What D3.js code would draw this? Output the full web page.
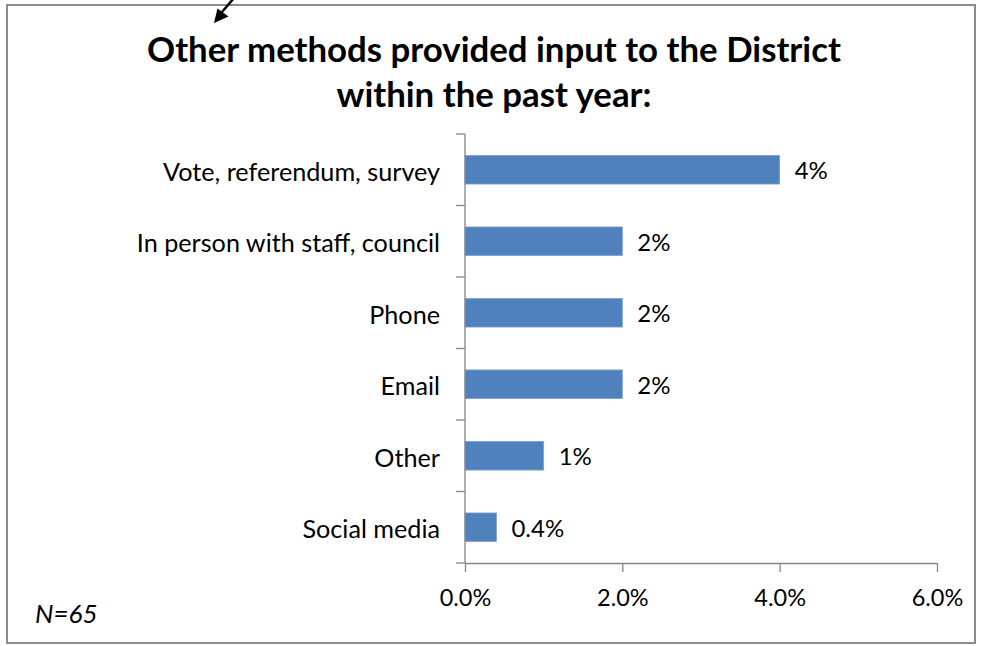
<!DOCTYPE html>
<html>
<head>
<meta charset="utf-8">
<script src="https://cdn.jsdelivr.net/npm/d3@7"></script>
<style>
  html, body { margin: 0; padding: 0; background: #fff; }
  svg { display: block; }
  text { font-family: Lato, "Open Sans", sans-serif; fill: #000; }
</style>
</head>
<body>
<svg id="chart" width="981" height="646"></svg>
<script>
// Survey responses: share of respondents using each input method
const categories = [
  "Vote, referendum, survey",
  "In person with staff, council",
  "Phone",
  "Email",
  "Other",
  "Social media"
];
const values = [4.0, 2.0, 2.0, 2.0, 1.0, 0.4];
const valueLabels = ["4%", "2%", "2%", "2%", "1%", "0.4%"];
const tickValues = [0, 2, 4, 6];
const titleLines = ["Other methods provided input to the District", "within the past year:"];
const footnote = "N=65";

const svg = d3.select("#chart");
const plot = { left: 465, right: 937, top: 134, bottom: 563 };
const axisColor = "#868686";
const barColor = "#4F81BD";

// outer frame
svg.append("rect")
  .attr("x", 7).attr("y", 5)
  .attr("width", 968).attr("height", 638)
  .attr("fill", "#fff")
  .attr("stroke", "#8c8c8c")
  .attr("stroke-width", 2);

// pointer arrow in the top-left corner
const arrow = svg.append("g");
arrow.append("line")
  .attr("x1", 234).attr("y1", -2)
  .attr("x2", 222).attr("y2", 12)
  .attr("stroke", "#000").attr("stroke-width", 2.5);
arrow.append("path")
  .attr("d", "M214,23 L217.5,8.5 L228.5,16.5 Z")
  .attr("fill", "#000");

// title
svg.append("text")
  .attr("x", 494).attr("y", 62)
  .attr("text-anchor", "middle")
  .style("font-weight", "bold")
  .style("font-size", "34.8px")
  .selectAll("tspan")
  .data(titleLines)
  .join("tspan")
  .attr("x", 494)
  .attr("dy", (d, i) => i === 0 ? 0 : 45)
  .text(d => d);

const x = d3.scaleLinear().domain([0, 6]).range([plot.left, plot.right]);
const y = d3.scaleBand().domain(categories)
  .range([plot.top, plot.bottom])
  .paddingInner(0.6).paddingOuter(0.3);

// bars
svg.append("g").selectAll("rect")
  .data(categories)
  .join("rect")
  .attr("x", x(0))
  .attr("y", d => y(d))
  .attr("width", (d, i) => x(values[i]) - x(0))
  .attr("height", y.bandwidth())
  .attr("fill", barColor)
  .attr("stroke", "#7fa2cf")
  .attr("stroke-width", 0.8);

// value labels
svg.append("g").selectAll("text")
  .data(categories)
  .join("text")
  .attr("x", (d, i) => x(values[i]) + 15)
  .attr("y", d => y(d) + y.bandwidth() / 2 + 1)
  .attr("dy", "0.35em")
  .style("font-size", "24px")
  .text((d, i) => valueLabels[i]);

// y axis: line with tick marks between categories
const yAxisG = svg.append("g");
yAxisG.append("line")
  .attr("x1", plot.left).attr("x2", plot.left)
  .attr("y1", plot.top).attr("y2", plot.bottom)
  .attr("stroke", axisColor).attr("stroke-width", 1.3);
const step = y.step();
const boundaries = d3.range(categories.length + 1).map(i => plot.top + i * step);
yAxisG.selectAll("line.tick")
  .data(boundaries)
  .join("line")
  .attr("class", "tick")
  .attr("x1", plot.left - 9).attr("x2", plot.left)
  .attr("y1", d => d).attr("y2", d => d)
  .attr("stroke", axisColor).attr("stroke-width", 1.3);
yAxisG.selectAll("text")
  .data(categories)
  .join("text")
  .attr("x", 440)
  .attr("y", d => y(d) + y.bandwidth() / 2 + 2)
  .attr("dy", "0.35em")
  .attr("text-anchor", "end")
  .style("font-size", "25.2px")
  .text(d => d);

// x axis
const xAxis = d3.axisBottom(x)
  .tickValues(tickValues)
  .tickSize(9)
  .tickPadding(17)
  .tickFormat(d => d3.format(".1f")(d) + "%");
const xAxisG = svg.append("g")
  .attr("transform", `translate(0,${plot.bottom})`)
  .call(xAxis);
xAxisG.select(".domain")
  .attr("d", `M${plot.left},0.5H${plot.right}`)
  .attr("stroke", axisColor).attr("stroke-width", 1.3);
xAxisG.selectAll(".tick line").attr("stroke", axisColor).attr("stroke-width", 1.3);
xAxisG.selectAll(".tick text")
  .style("font-family", "Lato, 'Open Sans', sans-serif")
  .style("font-size", "23.5px")
  .attr("fill", "#000");

// sample size note
svg.append("text")
  .attr("x", 35).attr("y", 623)
  .style("font-style", "italic")
  .style("font-size", "26px")
  .text(footnote);
</script>
</body>
</html>
